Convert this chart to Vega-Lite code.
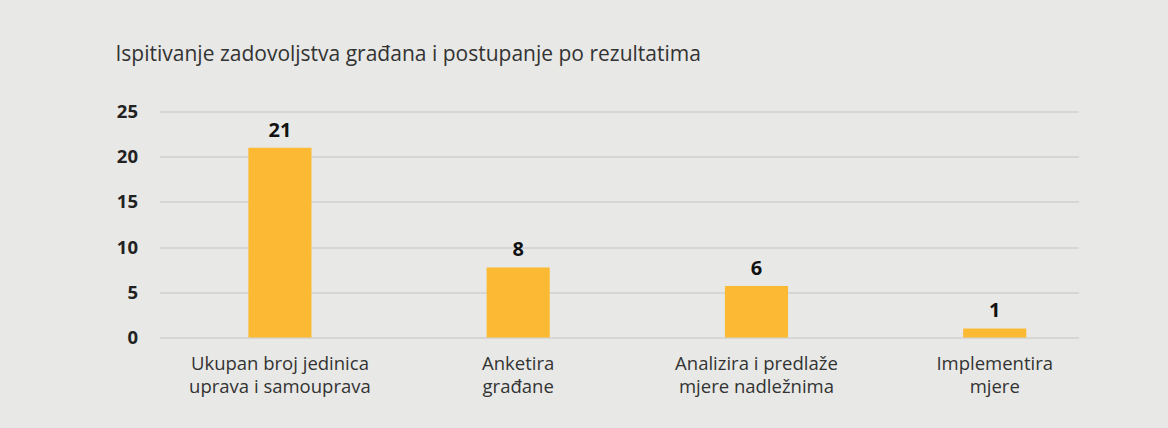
{
  "$schema": "https://vega.github.io/schema/vega-lite/v6.json",
  "width": 919,
  "height": 226,
  "autosize": {"type": "none"},
  "padding": {"left": 159.5, "top": 111.5, "right": 89.5, "bottom": 90.5},
  "background": "#E8E9E6",
  "title": {
    "text": "Ispitivanje zadovoljstva građana i postupanje po rezultatima",
    "anchor": "start",
    "frame": "group",
    "dx": -44,
    "offset": 38,
    "font": "Open Sans",
    "fontSize": 21,
    "fontWeight": "normal",
    "color": "#333333"
  },
  "config": {
    "view": {"stroke": null},
    "font": "Open Sans"
  },
  "data": {
    "values": [
      {"kategorija": "Ukupan broj jedinica|uprava i samouprava", "broj": 21},
      {"kategorija": "Anketira|građane", "broj": 7.75},
      {"kategorija": "Analizira i predlaže|mjere nadležnima", "broj": 5.7},
      {"kategorija": "Implementira|mjere", "broj": 1}
    ]
  },
  "encoding": {
    "x": {
      "field": "kategorija",
      "type": "nominal",
      "sort": null,
      "scale": {"paddingInner": 0.735, "paddingOuter": 0.296, "align": 0.63},
      "axis": {
        "title": null,
        "labelAngle": 0,
        "labelExpr": "split(datum.label, '|')",
        "labelFont": "Open Sans",
        "labelFontSize": 18.5,
        "labelColor": "#333333",
        "labelLineHeight": 22.5,
        "labelPadding": 17,
        "labelLimit": 0,
        "labelOverlap": false,
        "ticks": false,
        "domain": false,
        "grid": false
      }
    },
    "y": {
      "field": "broj",
      "type": "quantitative",
      "scale": {"domain": [0, 25]},
      "axis": {
        "title": null,
        "values": [0, 5, 10, 15, 20, 25],
        "labelFont": "Open Sans",
        "labelFontSize": 18.5,
        "labelFontWeight": "bold",
        "labelColor": "#222222",
        "labelPadding": 22,
        "ticks": false,
        "domain": false,
        "grid": true,
        "gridColor": "#C4C4C4",
        "gridWidth": 1.2
      }
    }
  },
  "layer": [
    {"mark": {"type": "bar", "color": "#FCB934"}},
    {
      "mark": {"type": "text", "baseline": "bottom", "dy": -7, "font": "Open Sans", "fontSize": 20, "fontWeight": "bold", "color": "#111111"},
      "encoding": {"text": {"field": "broj", "type": "quantitative", "format": ".0f"}}
    }
  ]
}
